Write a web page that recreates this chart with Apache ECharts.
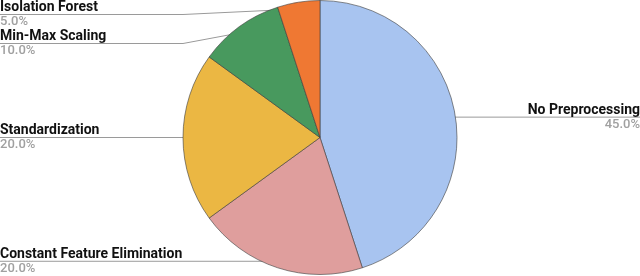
<!DOCTYPE html>
<html>
<head>
<meta charset="utf-8">
<script src="https://cdn.jsdelivr.net/npm/echarts@6/dist/echarts.min.js"></script>
<style>
html,body{margin:0;padding:0;background:#fff;}
#c{width:640px;height:276px;}
</style>
</head>
<body>
<div id="c"></div>
<script>
const categories = ['No Preprocessing', 'Constant Feature Elimination', 'Standardization', 'Min-Max Scaling', 'Isolation Forest'];
const values = [45, 20, 20, 10, 5];
const colors = ['#a8c4f0', '#df9e9d', '#ebb743', '#48995e', '#ef7833'];

const chart = echarts.init(document.getElementById('c'), null, {renderer: 'canvas'});
const W = 640, H = 276;
const CX = W / 2, CY = 137.5, R = 137;
const LABEL_H = 29;

// Label anchor points (inside each slice) and stacked label centres, Google-Sheets style.
const total = values.reduce((a, b) => a + b, 0);
let acc = 0;
const info = values.map((v, i) => {
  const mid = (acc + v / 2) / total * Math.PI * 2;
  acc += v;
  const s = Math.sin(mid), c = Math.cos(mid);
  return {i, left: s < 0, anchor: [CX + 0.95 * R * s, CY - 0.95 * R * c]};
});
[true, false].forEach(side => {
  const grp = info.filter(d => d.left === side).sort((a, b) => a.anchor[1] - b.anchor[1]);
  let prev = -Infinity;
  grp.forEach(d => {
    d.y = Math.max(d.anchor[1], prev + LABEL_H, LABEL_H / 2);
    prev = d.y;
  });
});

chart.setOption({
  animation: false,
  series: [{
    type: 'pie',
    center: [CX, CY],
    radius: ['0%', R],
    startAngle: 90,
    clockwise: true,
    avoidLabelOverlap: false,
    data: categories.map((n, i) => ({name: n, value: values[i], itemStyle: {color: colors[i]}})),
    itemStyle: {borderColor: '#3a3a3a', borderWidth: 0.6},
    label: {
      alignTo: 'edge',
      edgeDistance: 0,
      formatter: p => '{n|' + p.name + '}\n{p|' + p.value.toFixed(1) + '%}',
      rich: {
        n: {fontFamily: 'Roboto', fontWeight: 'bold', fontSize: 14, color: '#111', lineHeight: 15},
        p: {fontFamily: 'Roboto', fontWeight: 500, fontSize: 13, color: '#a0a0a0', lineHeight: 14}
      }
    },
    labelLine: {
      show: true,
      length: 6,
      length2: 10,
      lineStyle: {color: '#9a9a9a', width: 1}
    },
    labelLayout: function (params) {
      const d = info[params.dataIndex];
      const edgeX = d.left ? 0 : W;
      const kneeX = d.left ? Math.min(d.anchor[0], CX - R) : Math.max(d.anchor[0], CX + R);
      return {
        x: edgeX,
        y: d.y,
        align: d.left ? 'left' : 'right',
        verticalAlign: 'middle',
        labelLinePoints: [d.anchor, [kneeX, d.y], [edgeX, d.y]]
      };
    }
  }]
});
</script>
</body>
</html>
